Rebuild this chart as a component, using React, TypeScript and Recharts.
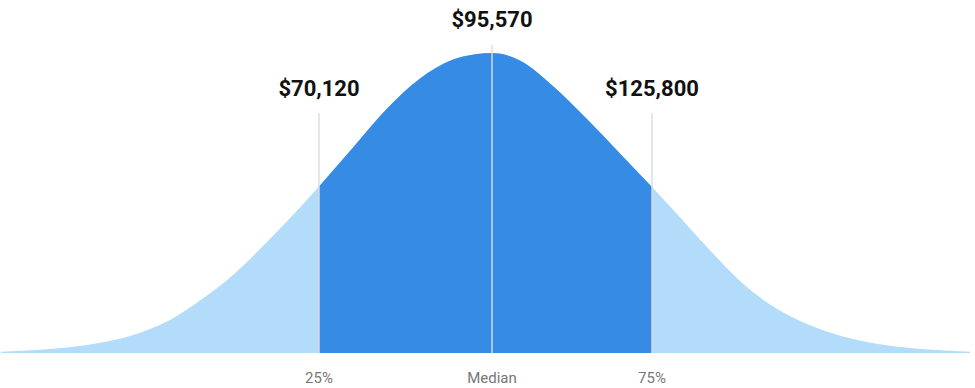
import React from 'react';
import { ComposedChart, Area, XAxis, YAxis, ReferenceLine } from 'recharts';

// curve: position along the axis and relative height (peak = 100)
const positions = [1, 33, 67, 100, 133, 167, 200, 233, 267, 300, 319, 353, 387, 420, 453, 475, 492, 520, 553, 587, 620, 652, 678, 712, 745, 778, 812, 845, 878, 912, 945, 970];
const heights = [0.4, 0.9, 1.8, 3.4, 6, 10.5, 17.5, 26, 37, 48.5, 55.5, 68.5, 81.5, 91.5, 97.8, 99.6, 100, 97.5, 89, 78, 66.5, 55.3, 46, 33.5, 22.5, 14.5, 9, 5.3, 3, 1.6, 0.8, 0.4];

const markerPositions = [319, 492, 652];
const markerLabels = ['25%', 'Median', '75%'];
const salaries = ['$70,120', '$95,570', '$125,800'];
const markerTops = [80, 102.7, 80];

const LIGHT = '#b3dcfa';
const DARK = '#368ce4';

const data = positions.map((pos, i) => ({
  pos,
  all: heights[i],
  mid: pos >= markerPositions[0] && pos <= markerPositions[2] ? heights[i] : null,
}));

export default function App() {
  return (
    <div style={{ position: 'absolute', left: 0, top: 0, fontFamily: 'Roboto' }}>
      <ComposedChart width={975} height={388} data={data} margin={{ top: 23, right: 5, bottom: 5, left: 1 }}>
        <XAxis
          dataKey="pos"
          type="number"
          domain={[1, 970]}
          ticks={markerPositions}
          tickFormatter={(v: number) => markerLabels[markerPositions.indexOf(v)]}
          axisLine={false}
          tickLine={false}
          tickMargin={13}
          height={30}
          tick={{ fill: '#777777', fontSize: 15, fontFamily: 'Roboto' }}
        />
        <YAxis hide domain={[0, 110]} />
        <Area type="monotone" dataKey="all" fill={LIGHT} fillOpacity={1} stroke="none" isAnimationActive={false} />
        <Area type="monotone" dataKey="mid" fill={DARK} fillOpacity={1} stroke="none" isAnimationActive={false} />
        {markerPositions.map((x, i) => (
          <ReferenceLine
            key={x}
            segment={[{ x, y: 0 }, { x, y: markerTops[i] }]}
            stroke="#dcdcdc"
            strokeOpacity={0.7}
            strokeWidth={2}
            label={{
              value: salaries[i],
              position: 'top',
              offset: i === 1 ? 18 : 17,
              fill: '#111111',
              fontSize: 22,
              fontWeight: 700,
              fontFamily: 'Roboto',
            }}
          />
        ))}
      </ComposedChart>
    </div>
  );
}
